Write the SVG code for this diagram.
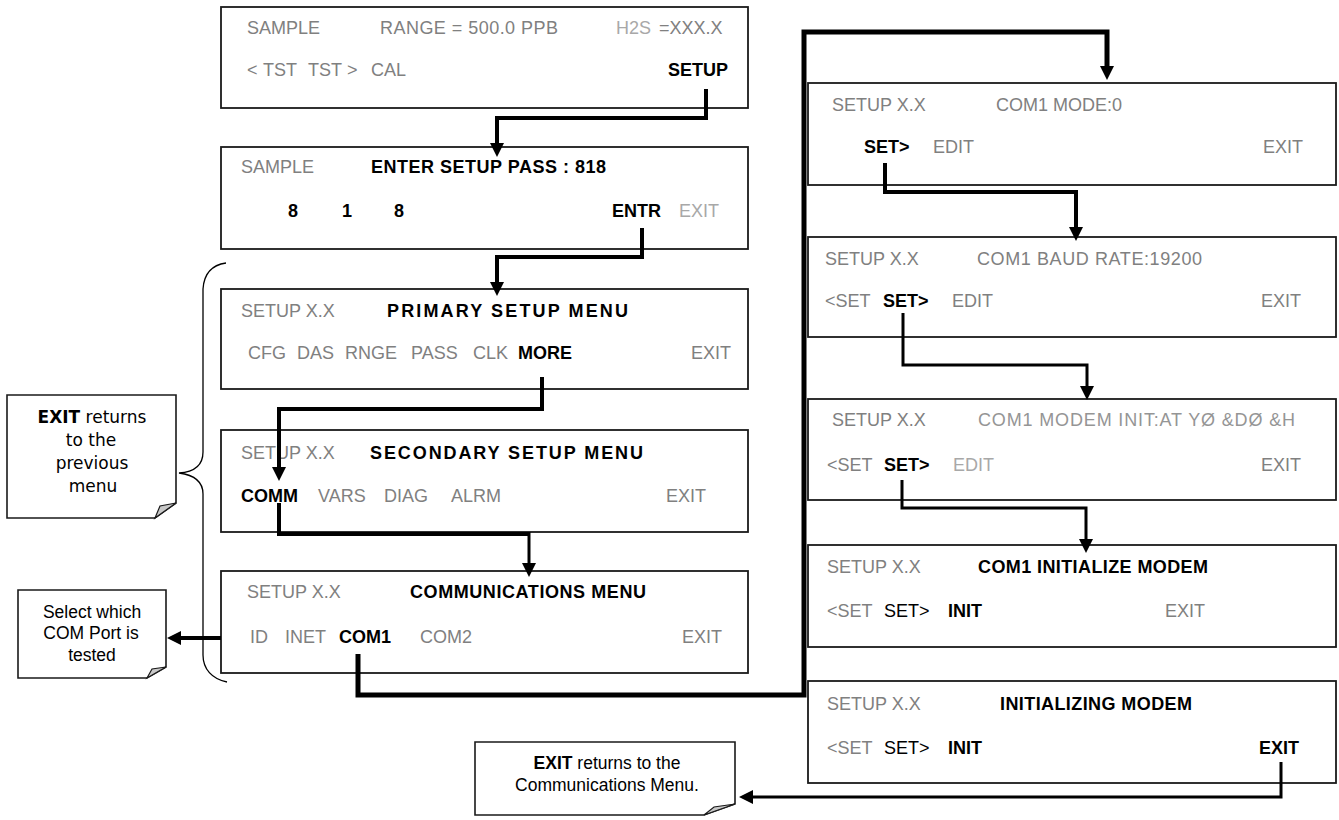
<svg xmlns="http://www.w3.org/2000/svg" width="1339" height="820" viewBox="0 0 1339 820">
<style>
.box{fill:#fff;stroke:#1a1a1a;stroke-width:1.8}
.t{font-family:"Liberation Sans",Arial,sans-serif;font-size:18px}
.g{fill:#808080}
.lg{fill:#a8a8a8}
.mg{fill:#959595}
.k{fill:#000}
.b{font-weight:bold;fill:#000}
.note{fill:#fff;stroke:#1a1a1a;stroke-width:1.6}
.fold{fill:#c8c8c8;stroke:#1a1a1a;stroke-width:1.2}
.nt{font-family:"Liberation Sans",Arial,sans-serif;font-size:17.5px;fill:#000;text-anchor:middle}
.nv{font-family:"DejaVu Sans",Verdana,sans-serif;font-size:17px;fill:#000;text-anchor:middle}
.c{fill:none;stroke:#000;stroke-linejoin:miter;stroke-linecap:butt}
</style>
<defs>
<marker id="ah" markerUnits="userSpaceOnUse" markerWidth="16" markerHeight="16" refX="0" refY="7" orient="auto" overflow="visible">
<path d="M0,0 L14,7 L0,14 z" fill="#000"/>
</marker>
</defs>
<rect width="1339" height="820" fill="#fff"/>

<g id="bracket">
<path d="M226,263 C212,265 204,273 203,289 L203,452 C203,465 194,472 179,473 C194,475 203,482 203,494 L203,655 C203,669 212,679 227,682" fill="none" stroke="#000" stroke-width="1.3"/>
</g>

<g id="box-sample">
<rect class="box" x="221" y="7" width="527" height="101"/>
<text class="t g" x="247" y="34">SAMPLE</text>
<text class="t g" x="380" y="34" textLength="178" lengthAdjust="spacing">RANGE = 500.0 PPB</text>
<text class="t lg" x="616" y="34">H2S</text>
<text class="t g" x="659" y="34">=XXX.X</text>
<text class="t g" x="247" y="76">&lt;</text>
<text class="t g" x="263" y="76">TST</text>
<text class="t g" x="308" y="76">TST</text>
<text class="t g" x="347" y="76">&gt;</text>
<text class="t g" x="371" y="76">CAL</text>
<text class="t b" x="728" y="76" text-anchor="end">SETUP</text>
</g>

<g id="box-pass">
<rect class="box" x="221" y="147" width="527" height="102"/>
<text class="t g" x="241" y="173">SAMPLE</text>
<text class="t b" x="371" y="173" textLength="235" lengthAdjust="spacing">ENTER SETUP PASS : 818</text>
<text class="t b" x="288" y="217">8</text>
<text class="t b" x="342" y="217">1</text>
<text class="t b" x="394" y="217">8</text>
<text class="t b" x="612" y="217">ENTR</text>
<text class="t lg" x="679" y="217">EXIT</text>
</g>

<g id="box-primary">
<rect class="box" x="221" y="289" width="527" height="100"/>
<text class="t g" x="241" y="317">SETUP X.X</text>
<text class="t b" x="387" y="317" textLength="241" lengthAdjust="spacing">PRIMARY SETUP MENU</text>
<text class="t g" x="248" y="359">CFG</text>
<text class="t g" x="297" y="359">DAS</text>
<text class="t g" x="345" y="359">RNGE</text>
<text class="t g" x="411" y="359">PASS</text>
<text class="t g" x="473" y="359">CLK</text>
<text class="t b" x="518" y="359">MORE</text>
<text class="t g" x="691" y="359">EXIT</text>
</g>

<g id="box-secondary">
<rect class="box" x="221" y="430" width="527" height="102"/>
<text class="t g" x="241" y="459">SETUP X.X</text>
<text class="t b" x="370" y="459" textLength="273" lengthAdjust="spacing">SECONDARY SETUP MENU</text>
<text class="t b" x="241" y="502">COMM</text>
<text class="t g" x="318" y="502">VARS</text>
<text class="t g" x="384" y="502">DIAG</text>
<text class="t g" x="451" y="502">ALRM</text>
<text class="t g" x="666" y="502">EXIT</text>
</g>

<g id="box-comm">
<rect class="box" x="221" y="571" width="527" height="102"/>
<text class="t g" x="247" y="598">SETUP X.X</text>
<text class="t b" x="410" y="598" textLength="236" lengthAdjust="spacing">COMMUNICATIONS MENU</text>
<text class="t g" x="250" y="643">ID</text>
<text class="t g" x="285" y="643">INET</text>
<text class="t b" x="339" y="643">COM1</text>
<text class="t g" x="420" y="643">COM2</text>
<text class="t g" x="682" y="643">EXIT</text>
</g>

<g id="box-com1mode">
<rect class="box" x="808" y="83" width="528" height="102"/>
<text class="t g" x="832" y="111">SETUP X.X</text>
<text class="t g" x="996" y="111">COM1 MODE:0</text>
<text class="t b" x="864" y="153">SET&gt;</text>
<text class="t g" x="933" y="153">EDIT</text>
<text class="t g" x="1263" y="153">EXIT</text>
</g>

<g id="box-baud">
<rect class="box" x="808" y="237" width="528" height="100"/>
<text class="t g" x="825" y="265">SETUP X.X</text>
<text class="t g" x="977" y="265" textLength="225" lengthAdjust="spacing">COM1 BAUD RATE:19200</text>
<text class="t g" x="825" y="307">&lt;SET</text>
<text class="t b" x="883" y="307">SET&gt;</text>
<text class="t g" x="952" y="307">EDIT</text>
<text class="t g" x="1261" y="307">EXIT</text>
</g>

<g id="box-modeminit">
<rect class="box" x="808" y="399" width="528" height="101"/>
<text class="t g" x="832" y="426">SETUP X.X</text>
<text class="t mg" x="978" y="426" textLength="317" lengthAdjust="spacing">COM1 MODEM INIT:AT  YØ &amp;DØ &amp;H</text>
<text class="t g" x="827" y="471">&lt;SET</text>
<text class="t b" x="884" y="471">SET&gt;</text>
<text class="t lg" x="953" y="471">EDIT</text>
<text class="t g" x="1261" y="471">EXIT</text>
</g>

<g id="box-initmodem">
<rect class="box" x="808" y="545" width="528" height="102"/>
<text class="t g" x="827" y="573">SETUP X.X</text>
<text class="t b" x="978" y="573" textLength="230" lengthAdjust="spacing">COM1 INITIALIZE MODEM</text>
<text class="t g" x="827" y="617">&lt;SET</text>
<text class="t k" x="884" y="617">SET&gt;</text>
<text class="t b" x="948" y="617">INIT</text>
<text class="t g" x="1165" y="617">EXIT</text>
</g>

<g id="box-initializing">
<rect class="box" x="808" y="681" width="528" height="102"/>
<text class="t g" x="827" y="710">SETUP X.X</text>
<text class="t b" x="1000" y="710" textLength="192" lengthAdjust="spacing">INITIALIZING MODEM</text>
<text class="t g" x="827" y="754">&lt;SET</text>
<text class="t k" x="884" y="754">SET&gt;</text>
<text class="t b" x="948" y="754">INIT</text>
<text class="t b" x="1259" y="754">EXIT</text>
</g>

<g id="note-exit-previous">
<path class="note" d="M7,395 H176 V503 L155,518 H7 Z"/>
<path class="fold" d="M155,518 L160,506 L176,503 Z"/>
<text class="nv" x="92" y="423"><tspan font-weight="bold">EXIT</tspan> returns</text>
<text class="nv" x="91" y="446">to the</text>
<text class="nv" x="92" y="469">previous</text>
<text class="nv" x="93" y="492">menu</text>
</g>

<g id="note-select-port">
<path class="note" d="M18,590 H166 V667 L147,678 H18 Z"/>
<path class="fold" d="M147,678 L152,669 L166,667 Z"/>
<text class="nt" x="92" y="618">Select which</text>
<text class="nt" x="91" y="639">COM Port is</text>
<text class="nt" x="92" y="661">tested</text>
</g>

<g id="note-exit-comm">
<path class="note" d="M475,742 H735 V804 L704,815 H475 Z"/>
<path class="fold" d="M704,815 L714,807 L735,804 Z"/>
<text class="nt" x="607" y="769"><tspan font-weight="bold">EXIT</tspan> returns to the</text>
<text class="nt" x="607" y="791">Communications Menu.</text>
</g>

<g id="connectors">
<path class="c" stroke-width="4" d="M706,89 V118 H497 V143" marker-end="url(#ah)"/>
<path class="c" stroke-width="4" d="M642,228 V257 H497 V282" marker-end="url(#ah)"/>
<path class="c" stroke-width="4" d="M542,377 V409 H279 V467" marker-end="url(#ah)"/>
<path class="c" stroke-width="4" d="M279,503 V534 H529"/>
<path class="c" stroke-width="3" d="M529,532 V563" marker-end="url(#ah)"/>
<path class="c" stroke-width="4" d="M221,638 H181" marker-end="url(#ah)"/>
<path class="c" stroke-width="5" d="M358,654 V695 H804 V32 H1107 V66" marker-end="url(#ah)"/>
<path class="c" stroke-width="4" d="M885,163 V192 H1076 V227" marker-end="url(#ah)"/>
<path class="c" stroke-width="3" d="M903,313 V365 H1087 V386" marker-end="url(#ah)"/>
<path class="c" stroke-width="3" d="M902,480 V508 H1086 V539" marker-end="url(#ah)"/>
<path class="c" stroke-width="3" d="M1281,762 V797 H753" marker-end="url(#ah)"/>
</g>
</svg>
